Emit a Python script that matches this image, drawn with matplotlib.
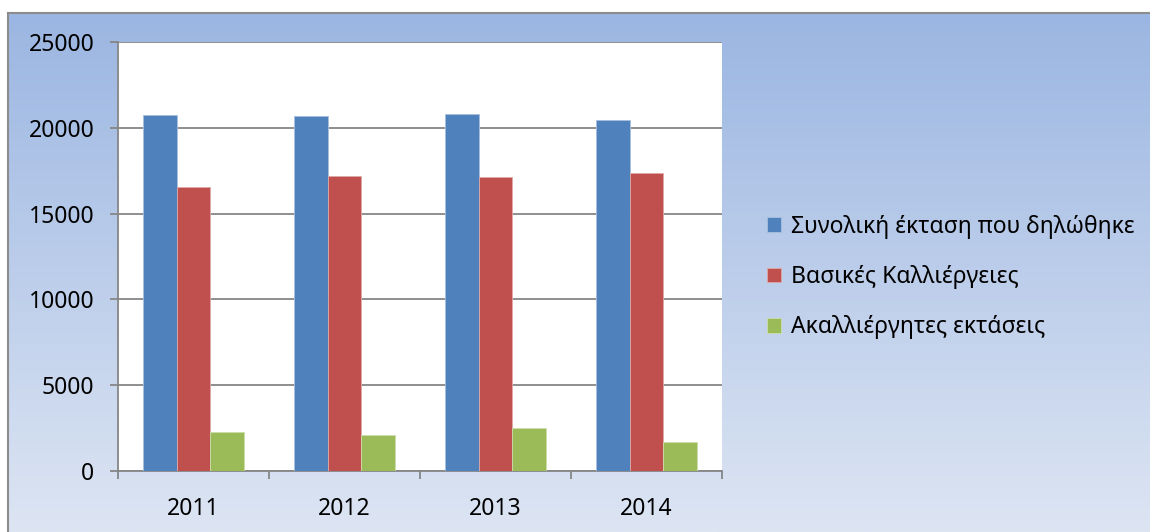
import numpy as np
import matplotlib.pyplot as plt
from matplotlib.colors import LinearSegmentedColormap

# data
years = ['2011', '2012', '2013', '2014']
synoliki = [20730, 20700, 20810, 20480]
vasikes = [16560, 17200, 17120, 17350]
akalliergites = [2260, 2100, 2510, 1670]
series_names = ['Συνολική έκταση που δηλώθηκε', 'Βασικές Καλλιέργειες', 'Ακαλλιέργητες εκτάσεις']
colors = ['#4F81BD', '#C0504D', '#9BBB59']
edges = ['#A7C0DE', '#DFA8A6', '#CDDDAC']

plt.rcParams['font.family'] = ['Noto Sans', 'DejaVu Sans']
fs = 16.5

fig = plt.figure(figsize=(11.5, 5.32), dpi=100)
fig.patch.set_facecolor('white')

# gradient background of the chart area
bg = fig.add_axes([8 / 1150, 0, 1 - 8 / 1150, (532 - 13) / 532])
cmap = LinearSegmentedColormap.from_list('bg', ['#DDE5F3', '#9BB6E2'])
grad = np.linspace(0, 1, 256).reshape(-1, 1)
bg.imshow(grad, aspect='auto', cmap=cmap, origin='lower', extent=[0, 1, 0, 1])
bg.set_xlim(0, 1)
bg.set_ylim(0, 1)
bg.set_xticks([])
bg.set_yticks([])
for s in ['right', 'bottom']:
    bg.spines[s].set_visible(False)
for s in ['left', 'top']:
    bg.spines[s].set_color('#8C8C8C')
    bg.spines[s].set_linewidth(1.5)

ax = fig.add_axes([118 / 1150, 61 / 532, 604 / 1150, 429 / 532])
ax.set_facecolor('white')
x = np.arange(len(years))
w = 1 / 4.5
for i, vals in enumerate([synoliki, vasikes, akalliergites]):
    ax.bar(x + (i - 1) * w, vals, width=w, color=colors[i], edgecolor=edges[i],
           linewidth=0.6, label=series_names[i], zorder=3)

ax.set_xlim(-0.5, len(years) - 0.5)
ax.set_ylim(0, 25000)
ax.set_yticks(np.arange(0, 25001, 5000))
ax.grid(axis='y', color='#868686', linewidth=1.3, zorder=1)
ax.set_xticks(x)
ax.set_xticklabels(years)
ax.set_xticks(np.arange(-0.5, len(years), 1), minor=True)
ax.tick_params(axis='x', which='major', length=0, pad=19, labelsize=fs)
ax.tick_params(axis='x', which='minor', length=6, width=1.3, color='#868686', direction='out')
ax.tick_params(axis='y', length=6, width=1.3, color='#868686', pad=11, labelsize=fs)
for s in ['right', 'top']:
    ax.spines[s].set_visible(False)
for s in ['left', 'bottom']:
    ax.spines[s].set_color('#868686')
    ax.spines[s].set_linewidth(1.3)

ax.legend(loc='center left', bbox_to_anchor=(1.06, 0.452), frameon=False,
          fontsize=fs, handlelength=0.6, handleheight=0.6, handletextpad=0.45,
          labelspacing=1.15, borderaxespad=0)

fig.savefig('out.png', dpi=100)
